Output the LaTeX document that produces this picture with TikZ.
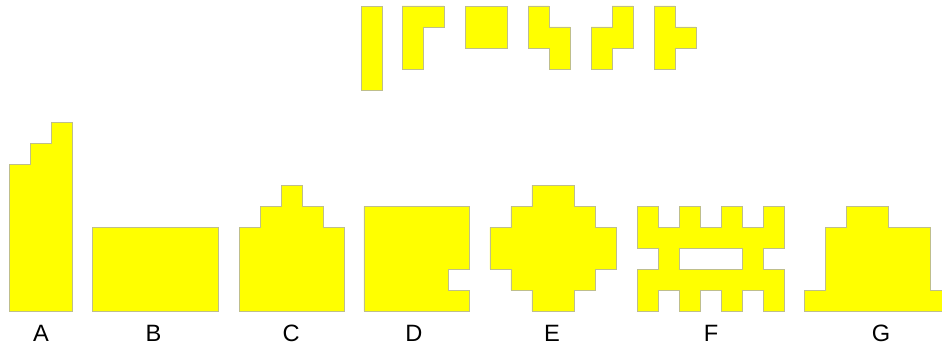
\documentclass[tikz,border=0pt]{standalone}
\usepackage{fontspec}
\setmainfont{Liberation Sans}
\definecolor{rim}{RGB}{190,190,140}
\definecolor{tile}{RGB}{255,255,0}
\tikzset{
	piece/.style={fill=tile,draw=rim,line width=0.6pt,line join=miter},
	tag/.style={anchor=base,font=\fontsize{16}{19}\selectfont}
}
\begin{document}
\begin{tikzpicture}[x=0.5cm,y=0.5cm]
				\useasboundingbox (0,-1.786) rectangle (44.857,14.833);
				\clip (0,-1.786) rectangle (44.857,14.833);
				% pieces on top
				\draw[piece,shift={(17.19,14.548)}] (0,0) rectangle (1,-4);
				\draw[piece,shift={(19.143,14.548)}] (0,0)--(2,0)--(2,-1)--(1,-1)--(1,-3)--(0,-3)--cycle;
				\draw[piece,shift={(22.143,14.548)}] (0,0) rectangle (2,-2);
				\draw[piece,shift={(25.143,14.548)}] (0,0)--(1,0)--(1,-1)--(2,-1)--(2,-3)--(1,-3)--(1,-2)--(0,-2)--cycle;
				\draw[piece,shift={(28.143,14.548)}] (1,0)--(2,0)--(2,-2)--(1,-2)--(1,-3)--(0,-3)--(0,-1)--(1,-1)--cycle;
				\draw[piece,shift={(31.143,14.548)}] (0,0)--(1,0)--(1,-1)--(2,-1)--(2,-2)--(1,-2)--(1,-3)--(0,-3)--cycle;
				% figures below
				\draw[piece,shift={(0.429,0)}] (0,0)--(3,0)--(3,9)--(2,9)--(2,8)--(1,8)--(1,7)--(0,7)--cycle;
				\draw[piece,shift={(4.381,0)}] (0,0) rectangle (6,4);
				\draw[piece,shift={(11.381,0)}] (0,0)--(5,0)--(5,4)--(4,4)--(4,5)--(3,5)--(3,6)--(2,6)--(2,5)--(1,5)--(1,4)--(0,4)--cycle;
				\draw[piece,shift={(17.333,0)}] (0,0)--(5,0)--(5,1)--(4,1)--(4,2)--(5,2)--(5,5)--(0,5)--cycle;
				\draw[piece,shift={(23.333,0)}] (2,0)--(4,0)--(4,1)--(5,1)--(5,2)--(6,2)--(6,4)--(5,4)--(5,5)--(4,5)--(4,6)--(2,6)--(2,5)--(1,5)--(1,4)--(0,4)--(0,2)--(1,2)--(1,1)--(2,1)--cycle;
				\draw[piece,even odd rule,shift={(30.333,0)}] (0,0)--(1,0)--(1,1)--(2,1)--(2,0)--(3,0)--(3,1)--(4,1)--(4,0)--(5,0)--(5,1)--(6,1)--(6,0)--(7,0)--(7,2)--(6,2)--(6,3)--(7,3)--(7,5)--(6,5)--(6,4)--(5,4)--(5,5)--(4,5)--(4,4)--(3,4)--(3,5)--(2,5)--(2,4)--(1,4)--(1,5)--(0,5)--(0,3)--(1,3)--(1,2)--(0,2)--cycle
					(2,2) rectangle (5,3);
				\draw[piece,shift={(38.286,0)}] (0,0)--(7,0)--(7,1)--(6,1)--(6,4)--(4,4)--(4,5)--(2,5)--(2,4)--(1,4)--(1,1)--(0,1)--cycle;
				% letters
				\node[tag] (labA) at (1.95,-1.452) {A};
				\node[tag] (labB) at (7.31,-1.452) {B};
				\node[tag] (labC) at (13.86,-1.452) {C};
				\node[tag] (labD) at (19.71,-1.452) {D};
				\node[tag] (labE) at (26.29,-1.452) {E};
				\node[tag] (labF) at (33.86,-1.452) {F};
				\node[tag] (labG) at (41.95,-1.452) {G};
			\end{tikzpicture}
\end{document}
